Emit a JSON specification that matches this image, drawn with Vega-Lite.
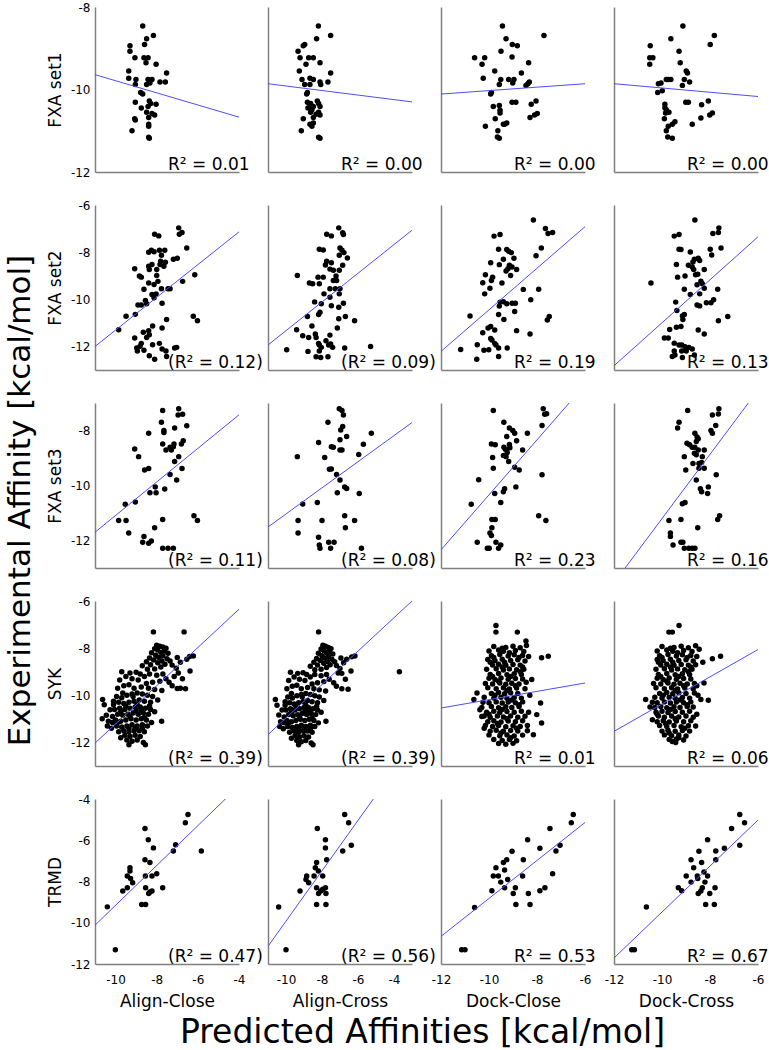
{
"$schema": "https://vega.github.io/schema/vega-lite/v6.json",
"background": "white",
"padding": {"left": 5, "top": 1, "right": 5, "bottom": 2},
"config": {
 "view": {"stroke": null},
 "font": "DejaVu Sans",
 "axis": {"domainColor": "#808080", "domainWidth": 1.5, "ticks": false, "grid": false, "labelFont": "DejaVu Sans", "labelFontSize": 12, "labelColor": "#000000", "labelPadding": 5, "labelFlush": false, "labelExpr": "replace(datum.label, '−', '-')", "titleFont": "DejaVu Sans", "titleFontSize": 17, "titleFontWeight": "normal", "titleColor": "#000000", "minExtent": 0},
 "axisY": {"titlePadding": 6},
 "axisX": {"labelPadding": 10, "titlePadding": 8},
 "circle": {"size": 30, "opacity": 1, "color": "#000000"},
 "line": {"color": "#4d4dff", "strokeWidth": 1},
 "text": {"font": "DejaVu Sans", "fontSize": 17, "align": "left", "baseline": "alphabetic", "color": "#000000"},
 "title": {"font": "DejaVu Sans", "fontSize": 33, "fontWeight": "normal", "color": "#000000"}
},
"datasets": {
 "fxa1_ac": [{"pred":-8.68,"exp":-8.46},{"pred":-8.16,"exp":-8.69},{"pred":-8.49,"exp":-8.77},{"pred":-9.30,"exp":-8.94},{"pred":-8.59,"exp":-8.91},{"pred":-9.30,"exp":-9.07},{"pred":-9.06,"exp":-9.23},{"pred":-8.62,"exp":-9.23},{"pred":-8.42,"exp":-9.23},{"pred":-8.52,"exp":-9.35},{"pred":-8.03,"exp":-9.39},{"pred":-9.36,"exp":-9.55},{"pred":-7.52,"exp":-9.60},{"pred":-9.36,"exp":-9.73},{"pred":-9.01,"exp":-9.76},{"pred":-8.42,"exp":-9.76},{"pred":-8.23,"exp":-9.76},{"pred":-7.84,"exp":-9.82},{"pred":-7.58,"exp":-9.82},{"pred":-9.04,"exp":-9.88},{"pred":-8.49,"exp":-9.88},{"pred":-8.33,"exp":-9.84},{"pred":-8.78,"exp":-10.07},{"pred":-8.68,"exp":-10.11},{"pred":-9.04,"exp":-10.31},{"pred":-8.36,"exp":-10.28},{"pred":-8.29,"exp":-10.34},{"pred":-8.42,"exp":-10.41},{"pred":-8.03,"exp":-10.36},{"pred":-8.75,"exp":-10.45},{"pred":-8.49,"exp":-10.55},{"pred":-8.23,"exp":-10.58},{"pred":-8.10,"exp":-10.62},{"pred":-8.39,"exp":-10.68},{"pred":-9.07,"exp":-10.71},{"pred":-9.04,"exp":-10.74},{"pred":-8.39,"exp":-10.84},{"pred":-8.39,"exp":-10.89},{"pred":-9.20,"exp":-11.0},{"pred":-8.39,"exp":-11.16},{"pred":-8.36,"exp":-11.18}],
 "fxa1_ax": [{"pred":-8.20,"exp":-8.46},{"pred":-8.30,"exp":-8.77},{"pred":-7.52,"exp":-8.69},{"pred":-8.96,"exp":-8.91},{"pred":-9.04,"exp":-8.94},{"pred":-9.33,"exp":-9.07},{"pred":-9.22,"exp":-9.23},{"pred":-8.74,"exp":-9.23},{"pred":-8.48,"exp":-9.23},{"pred":-8.89,"exp":-9.39},{"pred":-8.11,"exp":-9.35},{"pred":-9.26,"exp":-9.55},{"pred":-7.52,"exp":-9.60},{"pred":-9.11,"exp":-9.76},{"pred":-8.67,"exp":-9.73},{"pred":-8.48,"exp":-9.76},{"pred":-8.11,"exp":-9.82},{"pred":-7.67,"exp":-9.82},{"pred":-8.96,"exp":-9.88},{"pred":-8.67,"exp":-9.88},{"pred":-8.07,"exp":-9.88},{"pred":-8.81,"exp":-10.07},{"pred":-8.85,"exp":-10.11},{"pred":-8.26,"exp":-10.28},{"pred":-8.81,"exp":-10.31},{"pred":-8.63,"exp":-10.34},{"pred":-8.19,"exp":-10.34},{"pred":-8.67,"exp":-10.41},{"pred":-8.48,"exp":-10.41},{"pred":-8.11,"exp":-10.41},{"pred":-8.78,"exp":-10.45},{"pred":-8.56,"exp":-10.49},{"pred":-8.63,"exp":-10.55},{"pred":-8.19,"exp":-10.55},{"pred":-8.11,"exp":-10.62},{"pred":-8.33,"exp":-10.60},{"pred":-9.04,"exp":-10.71},{"pred":-8.48,"exp":-10.68},{"pred":-8.67,"exp":-10.84},{"pred":-8.48,"exp":-10.81},{"pred":-8.56,"exp":-10.89},{"pred":-9.15,"exp":-11.0},{"pred":-8.19,"exp":-11.16},{"pred":-8.11,"exp":-11.18}],
 "fxa1_dc": [{"pred":-9.44,"exp":-8.46},{"pred":-9.29,"exp":-8.77},{"pred":-9.03,"exp":-8.91},{"pred":-8.82,"exp":-8.94},{"pred":-9.50,"exp":-9.07},{"pred":-7.71,"exp":-8.69},{"pred":-10.60,"exp":-9.23},{"pred":-10.18,"exp":-9.23},{"pred":-10.29,"exp":-9.39},{"pred":-9.04,"exp":-9.21},{"pred":-8.35,"exp":-9.35},{"pred":-9.76,"exp":-9.55},{"pred":-8.65,"exp":-9.60},{"pred":-10.24,"exp":-9.73},{"pred":-9.51,"exp":-9.76},{"pred":-9.18,"exp":-9.76},{"pred":-8.96,"exp":-9.76},{"pred":-9.57,"exp":-9.88},{"pred":-9.01,"exp":-9.84},{"pred":-8.46,"exp":-9.90},{"pred":-8.32,"exp":-9.82},{"pred":-8.38,"exp":-9.86},{"pred":-9.90,"exp":-10.07},{"pred":-9.93,"exp":-10.11},{"pred":-9.04,"exp":-10.31},{"pred":-8.88,"exp":-10.31},{"pred":-8.04,"exp":-10.28},{"pred":-9.82,"exp":-10.41},{"pred":-9.57,"exp":-10.39},{"pred":-8.24,"exp":-10.36},{"pred":-9.54,"exp":-10.50},{"pred":-9.54,"exp":-10.57},{"pred":-7.99,"exp":-10.58},{"pred":-8.10,"exp":-10.62},{"pred":-9.74,"exp":-10.71},{"pred":-8.29,"exp":-10.68},{"pred":-9.26,"exp":-10.81},{"pred":-9.40,"exp":-10.84},{"pred":-9.35,"exp":-10.84},{"pred":-10.15,"exp":-10.89},{"pred":-9.63,"exp":-11.0},{"pred":-9.65,"exp":-11.15},{"pred":-9.57,"exp":-11.18}],
 "fxa1_dx": [{"pred":-9.13,"exp":-8.46},{"pred":-7.82,"exp":-8.69},{"pred":-9.63,"exp":-8.77},{"pred":-10.49,"exp":-8.94},{"pred":-7.99,"exp":-8.91},{"pred":-9.29,"exp":-9.07},{"pred":-10.51,"exp":-9.23},{"pred":-10.38,"exp":-9.23},{"pred":-9.24,"exp":-9.35},{"pred":-10.51,"exp":-9.39},{"pred":-8.99,"exp":-9.55},{"pred":-8.94,"exp":-9.60},{"pred":-9.74,"exp":-9.76},{"pred":-9.82,"exp":-9.76},{"pred":-9.63,"exp":-9.76},{"pred":-9.07,"exp":-9.76},{"pred":-8.85,"exp":-9.82},{"pred":-10.15,"exp":-9.86},{"pred":-10.04,"exp":-9.84},{"pred":-9.15,"exp":-9.90},{"pred":-10.18,"exp":-10.07},{"pred":-9.99,"exp":-10.03},{"pred":-9.01,"exp":-10.31},{"pred":-8.90,"exp":-10.31},{"pred":-8.07,"exp":-10.28},{"pred":-9.88,"exp":-10.36},{"pred":-8.35,"exp":-10.37},{"pred":-9.88,"exp":-10.44},{"pred":-9.82,"exp":-10.49},{"pred":-9.85,"exp":-10.57},{"pred":-9.71,"exp":-10.55},{"pred":-7.90,"exp":-10.57},{"pred":-8.01,"exp":-10.62},{"pred":-9.90,"exp":-10.71},{"pred":-9.46,"exp":-10.78},{"pred":-8.38,"exp":-10.69},{"pred":-9.57,"exp":-10.84},{"pred":-9.74,"exp":-10.89},{"pred":-8.74,"exp":-10.84},{"pred":-9.82,"exp":-11.0},{"pred":-9.76,"exp":-11.15},{"pred":-9.57,"exp":-11.18}],
 "fxa2_ac": [{"pred":-6.93,"exp":-6.97},{"pred":-6.77,"exp":-7.17},{"pred":-6.90,"exp":-7.24},{"pred":-8.10,"exp":-7.24},{"pred":-7.90,"exp":-7.31},{"pred":-6.54,"exp":-7.82},{"pred":-8.26,"exp":-7.92},{"pred":-8.13,"exp":-7.98},{"pred":-7.87,"exp":-7.92},{"pred":-7.61,"exp":-7.92},{"pred":-8.39,"exp":-8.00},{"pred":-7.77,"exp":-8.13},{"pred":-9.07,"exp":-8.70},{"pred":-8.84,"exp":-9.01},{"pred":-8.75,"exp":-9.06},{"pred":-8.23,"exp":-8.52},{"pred":-8.39,"exp":-8.60},{"pred":-8.36,"exp":-8.74},{"pred":-8.00,"exp":-8.74},{"pred":-7.84,"exp":-8.52},{"pred":-7.65,"exp":-8.60},{"pred":-7.81,"exp":-8.39},{"pred":-7.58,"exp":-8.43},{"pred":-7.19,"exp":-8.30},{"pred":-7.00,"exp":-8.26},{"pred":-8.00,"exp":-8.99},{"pred":-8.39,"exp":-9.31},{"pred":-8.62,"exp":-9.57},{"pred":-7.94,"exp":-9.24},{"pred":-8.13,"exp":-9.37},{"pred":-7.77,"exp":-9.55},{"pred":-7.45,"exp":-9.55},{"pred":-7.35,"exp":-9.55},{"pred":-6.74,"exp":-9.24},{"pred":-6.15,"exp":-8.96},{"pred":-8.23,"exp":-9.80},{"pred":-8.13,"exp":-9.94},{"pred":-8.03,"exp":-9.77},{"pred":-8.75,"exp":-10.24},{"pred":-8.91,"exp":-10.24},{"pred":-8.55,"exp":-10.05},{"pred":-8.49,"exp":-10.19},{"pred":-7.74,"exp":-10.17},{"pred":-9.49,"exp":-10.72},{"pred":-9.04,"exp":-10.64},{"pred":-9.85,"exp":-11.29},{"pred":-6.22,"exp":-10.72},{"pred":-6.02,"exp":-10.91},{"pred":-7.52,"exp":-10.86},{"pred":-8.20,"exp":-11.13},{"pred":-7.74,"exp":-11.22},{"pred":-9.07,"exp":-11.64},{"pred":-8.65,"exp":-11.40},{"pred":-8.39,"exp":-11.33},{"pred":-8.36,"exp":-11.50},{"pred":-8.49,"exp":-11.62},{"pred":-8.75,"exp":-11.87},{"pred":-8.81,"exp":-11.99},{"pred":-8.97,"exp":-12.07},{"pred":-8.94,"exp":-12.19},{"pred":-8.62,"exp":-12.16},{"pred":-8.20,"exp":-11.93},{"pred":-7.87,"exp":-11.87},{"pred":-7.55,"exp":-12.19},{"pred":-7.03,"exp":-12.04},{"pred":-7.13,"exp":-12.07},{"pred":-7.74,"exp":-12.11},{"pred":-8.36,"exp":-12.40},{"pred":-8.10,"exp":-12.54},{"pred":-7.52,"exp":-12.43}],
 "fxa2_ax": [{"pred":-7.07,"exp":-6.97},{"pred":-6.85,"exp":-7.18},{"pred":-6.81,"exp":-7.25},{"pred":-7.74,"exp":-7.24},{"pred":-7.48,"exp":-7.31},{"pred":-8.15,"exp":-7.88},{"pred":-7.93,"exp":-7.91},{"pred":-7.0,"exp":-7.82},{"pred":-6.89,"exp":-7.92},{"pred":-6.59,"exp":-8.25},{"pred":-6.78,"exp":-8.02},{"pred":-7.04,"exp":-8.13},{"pred":-7.74,"exp":-8.39},{"pred":-7.48,"exp":-8.45},{"pred":-7.81,"exp":-8.55},{"pred":-7.56,"exp":-8.72},{"pred":-7.37,"exp":-8.77},{"pred":-7.04,"exp":-8.77},{"pred":-6.85,"exp":-8.56},{"pred":-7.22,"exp":-9.01},{"pred":-7.19,"exp":-9.20},{"pred":-8.22,"exp":-9.06},{"pred":-7.93,"exp":-9.06},{"pred":-8.52,"exp":-9.34},{"pred":-8.15,"exp":-9.34},{"pred":-7.37,"exp":-9.20},{"pred":-7.26,"exp":-9.55},{"pred":-7.56,"exp":-9.55},{"pred":-7.0,"exp":-9.55},{"pred":-7.04,"exp":-9.77},{"pred":-7.89,"exp":-9.77},{"pred":-7.48,"exp":-10.27},{"pred":-6.81,"exp":-10.17},{"pred":-7.56,"exp":-9.91},{"pred":-8.04,"exp":-10.19},{"pred":-8.41,"exp":-10.11},{"pred":-7.07,"exp":-10.34},{"pred":-8.11,"exp":-10.55},{"pred":-8.19,"exp":-10.65},{"pred":-8.81,"exp":-10.73},{"pred":-6.70,"exp":-10.73},{"pred":-6.19,"exp":-10.91},{"pred":-7.07,"exp":-10.83},{"pred":-7.15,"exp":-11.22},{"pred":-8.56,"exp":-11.13},{"pred":-8.37,"exp":-11.47},{"pred":-9.07,"exp":-11.55},{"pred":-8.74,"exp":-11.62},{"pred":-8.33,"exp":-11.62},{"pred":-8.19,"exp":-11.87},{"pred":-8.15,"exp":-11.94},{"pred":-8.04,"exp":-12.04},{"pred":-7.78,"exp":-11.76},{"pred":-7.56,"exp":-11.52},{"pred":-7.63,"exp":-11.94},{"pred":-7.52,"exp":-11.90},{"pred":-7.41,"exp":-12.04},{"pred":-8.15,"exp":-12.19},{"pred":-8.33,"exp":-12.44},{"pred":-8.07,"exp":-12.47},{"pred":-7.67,"exp":-12.44},{"pred":-6.74,"exp":-12.07},{"pred":-5.30,"exp":-12.0},{"pred":-9.96,"exp":-12.14},{"pred":-8.78,"exp":-12.21},{"pred":-9.41,"exp":-11.29},{"pred":-9.37,"exp":-8.99},{"pred":-8.70,"exp":-9.31}],
 "fxa2_dc": [{"pred":-8.15,"exp":-6.64},{"pred":-7.65,"exp":-7.0},{"pred":-7.54,"exp":-7.21},{"pred":-7.35,"exp":-7.17},{"pred":-9.79,"exp":-7.32},{"pred":-9.54,"exp":-7.25},{"pred":-9.60,"exp":-7.88},{"pred":-9.26,"exp":-7.89},{"pred":-9.18,"exp":-7.96},{"pred":-9.07,"exp":-8.02},{"pred":-7.82,"exp":-7.82},{"pred":-8.04,"exp":-8.15},{"pred":-9.40,"exp":-8.30},{"pred":-8.96,"exp":-8.26},{"pred":-9.93,"exp":-8.45},{"pred":-9.57,"exp":-8.53},{"pred":-9.15,"exp":-8.56},{"pred":-9.21,"exp":-8.70},{"pred":-9.29,"exp":-8.80},{"pred":-9.04,"exp":-8.63},{"pred":-8.85,"exp":-8.74},{"pred":-9.10,"exp":-8.99},{"pred":-10.15,"exp":-8.96},{"pred":-9.85,"exp":-9.06},{"pred":-9.90,"exp":-9.20},{"pred":-10.26,"exp":-9.30},{"pred":-9.96,"exp":-9.53},{"pred":-10.18,"exp":-9.77},{"pred":-9.46,"exp":-9.31},{"pred":-8.57,"exp":-9.58},{"pred":-7.93,"exp":-9.57},{"pred":-8.26,"exp":-10.02},{"pred":-9.54,"exp":-10.12},{"pred":-9.40,"exp":-10.10},{"pred":-9.57,"exp":-10.29},{"pred":-9.26,"exp":-10.19},{"pred":-9.04,"exp":-10.17},{"pred":-8.90,"exp":-10.17},{"pred":-8.93,"exp":-10.52},{"pred":-9.38,"exp":-10.86},{"pred":-9.60,"exp":-10.65},{"pred":-10.79,"exp":-10.71},{"pred":-7.57,"exp":-10.88},{"pred":-7.49,"exp":-10.73},{"pred":-9.93,"exp":-11.15},{"pred":-10.04,"exp":-11.22},{"pred":-9.76,"exp":-11.30},{"pred":-10.26,"exp":-11.42},{"pred":-8.85,"exp":-11.33},{"pred":-8.29,"exp":-11.47},{"pred":-9.93,"exp":-11.66},{"pred":-9.88,"exp":-11.73},{"pred":-9.76,"exp":-11.87},{"pred":-9.71,"exp":-11.94},{"pred":-9.60,"exp":-12.07},{"pred":-10.01,"exp":-12.14},{"pred":-10.21,"exp":-12.16},{"pred":-9.24,"exp":-12.07},{"pred":-10.49,"exp":-11.93},{"pred":-11.18,"exp":-12.13},{"pred":-10.51,"exp":-12.54},{"pred":-9.60,"exp":-12.43}],
 "fxa2_dx": [{"pred":-8.63,"exp":-6.64},{"pred":-7.88,"exp":-7.21},{"pred":-7.65,"exp":-7.17},{"pred":-7.63,"exp":-6.97},{"pred":-9.49,"exp":-7.32},{"pred":-9.29,"exp":-7.25},{"pred":-9.29,"exp":-7.88},{"pred":-9.21,"exp":-7.89},{"pred":-8.82,"exp":-7.99},{"pred":-7.99,"exp":-7.88},{"pred":-7.93,"exp":-8.12},{"pred":-7.54,"exp":-7.82},{"pred":-8.65,"exp":-8.30},{"pred":-8.49,"exp":-8.26},{"pred":-8.71,"exp":-8.42},{"pred":-8.43,"exp":-8.35},{"pred":-9.40,"exp":-8.52},{"pred":-8.90,"exp":-8.56},{"pred":-8.74,"exp":-8.63},{"pred":-8.68,"exp":-8.74},{"pred":-8.60,"exp":-8.96},{"pred":-8.51,"exp":-8.94},{"pred":-8.24,"exp":-8.74},{"pred":-9.04,"exp":-9.01},{"pred":-9.35,"exp":-9.06},{"pred":-10.46,"exp":-9.31},{"pred":-8.38,"exp":-9.23},{"pred":-8.32,"exp":-9.34},{"pred":-8.54,"exp":-9.38},{"pred":-9.07,"exp":-9.57},{"pred":-8.24,"exp":-9.53},{"pred":-7.68,"exp":-9.57},{"pred":-8.43,"exp":-9.77},{"pred":-8.82,"exp":-9.80},{"pred":-9.43,"exp":-10.12},{"pred":-8.54,"exp":-10.24},{"pred":-8.43,"exp":-10.28},{"pred":-8.15,"exp":-10.15},{"pred":-7.96,"exp":-10.15},{"pred":-7.85,"exp":-10.02},{"pred":-9.38,"exp":-10.48},{"pred":-9.15,"exp":-10.71},{"pred":-9.07,"exp":-10.65},{"pred":-9.13,"exp":-10.86},{"pred":-9.21,"exp":-11.15},{"pred":-9.40,"exp":-11.19},{"pred":-9.68,"exp":-11.28},{"pred":-8.49,"exp":-11.30},{"pred":-8.24,"exp":-11.47},{"pred":-7.26,"exp":-10.73},{"pred":-7.65,"exp":-10.91},{"pred":-9.90,"exp":-11.64},{"pred":-9.74,"exp":-11.64},{"pred":-9.49,"exp":-11.86},{"pred":-9.29,"exp":-11.94},{"pred":-9.18,"exp":-11.94},{"pred":-9.04,"exp":-12.01},{"pred":-8.88,"exp":-12.04},{"pred":-8.74,"exp":-12.11},{"pred":-9.18,"exp":-12.19},{"pred":-8.99,"exp":-12.19},{"pred":-9.49,"exp":-12.19},{"pred":-9.46,"exp":-12.36},{"pred":-9.57,"exp":-12.43},{"pred":-8.65,"exp":-12.36},{"pred":-9.15,"exp":-12.47}],
 "fxa3_ac": [{"pred":-6.93,"exp":-7.21},{"pred":-7.71,"exp":-7.27},{"pred":-6.74,"exp":-7.41},{"pred":-6.96,"exp":-7.44},{"pred":-7.77,"exp":-7.70},{"pred":-7.65,"exp":-8.0},{"pred":-7.65,"exp":-8.07},{"pred":-7.13,"exp":-7.91},{"pred":-8.39,"exp":-8.10},{"pred":-6.54,"exp":-7.83},{"pred":-7.71,"exp":-8.49},{"pred":-7.55,"exp":-8.71},{"pred":-7.29,"exp":-8.71},{"pred":-7.35,"exp":-8.61},{"pred":-7.16,"exp":-8.49},{"pred":-7.19,"exp":-8.59},{"pred":-6.71,"exp":-8.37},{"pred":-6.80,"exp":-8.49},{"pred":-9.07,"exp":-8.67},{"pred":-8.88,"exp":-8.95},{"pred":-8.59,"exp":-9.44},{"pred":-8.39,"exp":-9.38},{"pred":-6.93,"exp":-8.95},{"pred":-7.13,"exp":-9.13},{"pred":-6.77,"exp":-9.38},{"pred":-7.35,"exp":-9.60},{"pred":-7.03,"exp":-9.80},{"pred":-8.33,"exp":-10.26},{"pred":-8.03,"exp":-10.26},{"pred":-7.61,"exp":-10.13},{"pred":-8.07,"exp":-10.05},{"pred":-9.49,"exp":-11.27},{"pred":-9.53,"exp":-10.68},{"pred":-9.04,"exp":-10.60},{"pred":-8.10,"exp":-11.54},{"pred":-7.71,"exp":-11.24},{"pred":-9.36,"exp":-11.73},{"pred":-8.62,"exp":-11.85},{"pred":-8.68,"exp":-12.06},{"pred":-8.39,"exp":-12.10},{"pred":-8.26,"exp":-12.02},{"pred":-6.19,"exp":-11.10},{"pred":-6.02,"exp":-11.27},{"pred":-7.71,"exp":-12.28},{"pred":-7.45,"exp":-12.28},{"pred":-7.19,"exp":-12.28},{"pred":-9.85,"exp":-11.27}],
 "fxa3_ax": [{"pred":-7.04,"exp":-7.21},{"pred":-6.89,"exp":-7.27},{"pred":-6.81,"exp":-7.44},{"pred":-6.85,"exp":-7.85},{"pred":-6.96,"exp":-7.98},{"pred":-6.63,"exp":-8.22},{"pred":-7.0,"exp":-8.34},{"pred":-5.26,"exp":-8.10},{"pred":-7.67,"exp":-7.70},{"pred":-5.70,"exp":-8.50},{"pred":-5.96,"exp":-8.87},{"pred":-7.48,"exp":-8.59},{"pred":-7.0,"exp":-8.71},{"pred":-6.89,"exp":-8.71},{"pred":-8.19,"exp":-8.44},{"pred":-7.85,"exp":-8.98},{"pred":-7.37,"exp":-8.61},{"pred":-7.59,"exp":-9.41},{"pred":-7.48,"exp":-9.40},{"pred":-7.19,"exp":-9.60},{"pred":-7.0,"exp":-9.80},{"pred":-6.63,"exp":-10.11},{"pred":-6.74,"exp":-10.05},{"pred":-7.15,"exp":-10.26},{"pred":-5.93,"exp":-10.29},{"pred":-9.37,"exp":-8.95},{"pred":-9.07,"exp":-10.67},{"pred":-8.26,"exp":-10.62},{"pred":-9.33,"exp":-11.27},{"pred":-9.33,"exp":-11.73},{"pred":-8.0,"exp":-11.27},{"pred":-6.74,"exp":-11.10},{"pred":-6.70,"exp":-11.54},{"pred":-6.19,"exp":-11.27},{"pred":-8.19,"exp":-11.88},{"pred":-8.15,"exp":-12.16},{"pred":-7.63,"exp":-12.06},{"pred":-7.33,"exp":-12.06},{"pred":-7.52,"exp":-12.28},{"pred":-8.11,"exp":-12.28},{"pred":-5.81,"exp":-12.28}],
 "fxa3_dc": [{"pred":-9.82,"exp":-7.27},{"pred":-7.74,"exp":-7.21},{"pred":-7.60,"exp":-7.39},{"pred":-7.68,"exp":-7.41},{"pred":-9.38,"exp":-7.70},{"pred":-9.15,"exp":-7.91},{"pred":-9.01,"exp":-8.0},{"pred":-8.93,"exp":-8.10},{"pred":-8.40,"exp":-8.10},{"pred":-9.90,"exp":-8.49},{"pred":-9.74,"exp":-8.52},{"pred":-9.26,"exp":-8.22},{"pred":-8.85,"exp":-8.37},{"pred":-9.38,"exp":-8.61},{"pred":-9.15,"exp":-8.51},{"pred":-9.32,"exp":-8.68},{"pred":-9.13,"exp":-8.63},{"pred":-9.24,"exp":-8.80},{"pred":-8.60,"exp":-8.71},{"pred":-9.40,"exp":-8.91},{"pred":-9.29,"exp":-8.95},{"pred":-9.85,"exp":-8.98},{"pred":-9.18,"exp":-9.13},{"pred":-9.82,"exp":-9.37},{"pred":-8.93,"exp":-9.34},{"pred":-8.74,"exp":-9.44},{"pred":-7.79,"exp":-7.82},{"pred":-7.79,"exp":-9.61},{"pred":-10.43,"exp":-9.79},{"pred":-9.35,"exp":-10.12},{"pred":-9.40,"exp":-10.23},{"pred":-8.88,"exp":-10.05},{"pred":-9.76,"exp":-10.29},{"pred":-9.51,"exp":-10.62},{"pred":-10.74,"exp":-10.68},{"pred":-9.88,"exp":-11.24},{"pred":-9.74,"exp":-11.24},{"pred":-9.88,"exp":-11.54},{"pred":-9.96,"exp":-11.73},{"pred":-9.90,"exp":-11.82},{"pred":-10.49,"exp":-12.06},{"pred":-9.71,"exp":-12.06},{"pred":-9.51,"exp":-12.16},{"pred":-9.60,"exp":-12.28},{"pred":-10.07,"exp":-12.28},{"pred":-9.99,"exp":-12.28},{"pred":-7.93,"exp":-11.10},{"pred":-7.63,"exp":-11.27}],
 "fxa3_dx": [{"pred":-8.93,"exp":-7.27},{"pred":-9.29,"exp":-7.70},{"pred":-9.35,"exp":-7.91},{"pred":-7.63,"exp":-7.21},{"pred":-7.65,"exp":-7.40},{"pred":-7.90,"exp":-7.44},{"pred":-7.76,"exp":-7.82},{"pred":-7.96,"exp":-8.0},{"pred":-7.90,"exp":-8.10},{"pred":-8.63,"exp":-8.10},{"pred":-8.54,"exp":-8.24},{"pred":-8.49,"exp":-8.30},{"pred":-8.57,"exp":-8.40},{"pred":-8.96,"exp":-8.46},{"pred":-8.85,"exp":-8.52},{"pred":-8.74,"exp":-8.61},{"pred":-8.63,"exp":-8.61},{"pred":-8.49,"exp":-8.71},{"pred":-8.65,"exp":-8.83},{"pred":-8.24,"exp":-8.71},{"pred":-8.32,"exp":-8.95},{"pred":-9.07,"exp":-8.95},{"pred":-8.57,"exp":-8.88},{"pred":-8.71,"exp":-9.20},{"pred":-8.35,"exp":-9.16},{"pred":-8.46,"exp":-9.37},{"pred":-8.24,"exp":-9.37},{"pred":-9.01,"exp":-9.44},{"pred":-7.74,"exp":-9.61},{"pred":-8.57,"exp":-9.80},{"pred":-8.07,"exp":-10.05},{"pred":-8.40,"exp":-10.12},{"pred":-8.35,"exp":-10.23},{"pred":-8.10,"exp":-10.29},{"pred":-9.15,"exp":-10.66},{"pred":-9.04,"exp":-10.62},{"pred":-9.71,"exp":-11.27},{"pred":-9.21,"exp":-11.24},{"pred":-7.68,"exp":-11.24},{"pred":-7.60,"exp":-11.10},{"pred":-8.51,"exp":-11.54},{"pred":-9.65,"exp":-11.73},{"pred":-9.65,"exp":-11.85},{"pred":-9.54,"exp":-12.16},{"pred":-9.21,"exp":-12.06},{"pred":-9.13,"exp":-12.06},{"pred":-9.07,"exp":-12.28},{"pred":-8.88,"exp":-12.28},{"pred":-8.74,"exp":-12.28},{"pred":-8.63,"exp":-12.28},{"pred":-8.46,"exp":-9.20}],
 "syk_ac": [{"pred":-8.16,"exp":-7.31},{"pred":-6.67,"exp":-7.31},{"pred":-10.63,"exp":-10.18},{"pred":-6.38,"exp":-8.97},{"pred":-6.22,"exp":-8.33},{"pred":-6.54,"exp":-8.47},{"pred":-7.76,"exp":-11.10},{"pred":-7.0,"exp":-9.71},{"pred":-8.0,"exp":-7.88},{"pred":-7.85,"exp":-7.92},{"pred":-7.7,"exp":-7.95},{"pred":-7.55,"exp":-8.0},{"pred":-8.1,"exp":-8.02},{"pred":-7.95,"exp":-8.08},{"pred":-7.62,"exp":-8.12},{"pred":-7.8,"exp":-8.18},{"pred":-8.25,"exp":-8.2},{"pred":-7.45,"exp":-8.22},{"pred":-8.05,"exp":-8.3},{"pred":-7.7,"exp":-8.32},{"pred":-7.9,"exp":-8.4},{"pred":-8.35,"exp":-8.42},{"pred":-7.5,"exp":-8.45},{"pred":-8.15,"exp":-8.5},{"pred":-7.75,"exp":-8.55},{"pred":-7.35,"exp":-8.55},{"pred":-8.5,"exp":-8.58},{"pred":-7.95,"exp":-8.62},{"pred":-7.6,"exp":-8.68},{"pred":-8.3,"exp":-8.7},{"pred":-7.25,"exp":-8.72},{"pred":-8.7,"exp":-8.75},{"pred":-7.8,"exp":-8.8},{"pred":-7.05,"exp":-8.85},{"pred":-8.1,"exp":-8.88},{"pred":-8.45,"exp":-8.9},{"pred":-6.85,"exp":-8.6},{"pred":-7.0,"exp":-8.4},{"pred":-6.4,"exp":-8.35},{"pred":-6.95,"exp":-9.05},{"pred":-6.75,"exp":-9.3},{"pred":-7.15,"exp":-9.2},{"pred":-6.6,"exp":-9.72},{"pred":-6.85,"exp":-9.7},{"pred":-7.25,"exp":-9.6},{"pred":-7.4,"exp":-9.45},{"pred":-9.7,"exp":-9.0},{"pred":-9.3,"exp":-9.05},{"pred":-9.0,"exp":-9.02},{"pred":-8.8,"exp":-9.1},{"pred":-9.5,"exp":-9.2},{"pred":-9.8,"exp":-9.35},{"pred":-9.2,"exp":-9.3},{"pred":-8.9,"exp":-9.35},{"pred":-8.6,"exp":-9.2},{"pred":-8.35,"exp":-9.1},{"pred":-8.0,"exp":-9.15},{"pred":-7.7,"exp":-9.1},{"pred":-7.55,"exp":-9.3},{"pred":-7.85,"exp":-9.4},{"pred":-8.2,"exp":-9.45},{"pred":-8.5,"exp":-9.5},{"pred":-9.35,"exp":-9.55},{"pred":-9.6,"exp":-9.6},{"pred":-9.9,"exp":-9.7},{"pred":-9.1,"exp":-9.7},{"pred":-8.75,"exp":-9.65},{"pred":-8.4,"exp":-9.7},{"pred":-8.1,"exp":-9.75},{"pred":-7.75,"exp":-9.8},{"pred":-9.65,"exp":-9.9},{"pred":-10.27,"exp":-10.61},{"pred":-10.45,"exp":-10.85},{"pred":-10.1,"exp":-10.4},{"pred":-9.95,"exp":-10.05},{"pred":-9.7,"exp":-10.1},{"pred":-9.45,"exp":-10.0},{"pred":-9.2,"exp":-9.95},{"pred":-8.95,"exp":-9.9},{"pred":-8.7,"exp":-9.95},{"pred":-8.45,"exp":-10.0},{"pred":-8.2,"exp":-10.05},{"pred":-7.95,"exp":-10.2},{"pred":-8.3,"exp":-10.3},{"pred":-8.6,"exp":-10.25},{"pred":-8.85,"exp":-10.2},{"pred":-9.1,"exp":-10.25},{"pred":-9.35,"exp":-10.3},{"pred":-9.6,"exp":-10.35},{"pred":-9.85,"exp":-10.3},{"pred":-10.05,"exp":-10.6},{"pred":-9.8,"exp":-10.55},{"pred":-9.55,"exp":-10.6},{"pred":-9.3,"exp":-10.55},{"pred":-9.05,"exp":-10.5},{"pred":-8.8,"exp":-10.5},{"pred":-8.55,"exp":-10.55},{"pred":-8.3,"exp":-10.6},{"pred":-8.1,"exp":-10.7},{"pred":-8.4,"exp":-10.8},{"pred":-8.65,"exp":-10.75},{"pred":-8.9,"exp":-10.8},{"pred":-9.15,"exp":-10.75},{"pred":-9.4,"exp":-10.8},{"pred":-9.65,"exp":-10.85},{"pred":-9.9,"exp":-10.8},{"pred":-10.15,"exp":-10.9},{"pred":-10.35,"exp":-11.1},{"pred":-10.0,"exp":-11.05},{"pred":-9.75,"exp":-11.1},{"pred":-9.5,"exp":-11.05},{"pred":-9.25,"exp":-11.0},{"pred":-9.0,"exp":-11.05},{"pred":-8.75,"exp":-11.0},{"pred":-8.5,"exp":-11.05},{"pred":-8.25,"exp":-11.15},{"pred":-8.45,"exp":-11.3},{"pred":-8.7,"exp":-11.25},{"pred":-8.95,"exp":-11.3},{"pred":-9.2,"exp":-11.25},{"pred":-9.45,"exp":-11.3},{"pred":-9.7,"exp":-11.35},{"pred":-9.95,"exp":-11.3},{"pred":-10.2,"exp":-11.4},{"pred":-9.85,"exp":-11.55},{"pred":-9.6,"exp":-11.5},{"pred":-9.35,"exp":-11.55},{"pred":-9.1,"exp":-11.5},{"pred":-8.85,"exp":-11.5},{"pred":-8.6,"exp":-11.55},{"pred":-8.8,"exp":-11.75},{"pred":-9.05,"exp":-11.7},{"pred":-9.3,"exp":-11.75},{"pred":-9.55,"exp":-11.7},{"pred":-9.75,"exp":-11.8},{"pred":-9.45,"exp":-11.9},{"pred":-9.2,"exp":-11.95},{"pred":-8.95,"exp":-11.9},{"pred":-9.35,"exp":-12.1},{"pred":-8.65,"exp":-12.0},{"pred":-8.55,"exp":-12.1},{"pred":-9.15,"exp":-10.05},{"pred":-8.95,"exp":-10.4},{"pred":-9.5,"exp":-10.45},{"pred":-8.35,"exp":-10.45},{"pred":-9.0,"exp":-10.65},{"pred":-8.75,"exp":-10.65},{"pred":-9.3,"exp":-10.9},{"pred":-8.6,"exp":-10.95},{"pred":-9.75,"exp":-10.7},{"pred":-10.1,"exp":-10.25},{"pred":-9.35,"exp":-11.4},{"pred":-9.05,"exp":-11.4},{"pred":-8.7,"exp":-11.4},{"pred":-9.9,"exp":-11.15},{"pred":-10.15,"exp":-11.15},{"pred":-10.55,"exp":-10.4},{"pred":-10.4,"exp":-11.3},{"pred":-10.65,"exp":-11.0}],
 "syk_ax": [{"pred":-8.19,"exp":-7.31},{"pred":-10.59,"exp":-10.18},{"pred":-6.39,"exp":-8.97},{"pred":-6.17,"exp":-8.33},{"pred":-6.63,"exp":-8.47},{"pred":-7.78,"exp":-11.10},{"pred":-3.70,"exp":-9.0},{"pred":-6.9,"exp":-9.72},{"pred":-7.1,"exp":-9.05},{"pred":-7.95,"exp":-7.88},{"pred":-7.8,"exp":-7.92},{"pred":-7.65,"exp":-7.97},{"pred":-7.5,"exp":-8.02},{"pred":-8.05,"exp":-8.04},{"pred":-7.9,"exp":-8.1},{"pred":-7.58,"exp":-8.14},{"pred":-7.75,"exp":-8.2},{"pred":-8.2,"exp":-8.22},{"pred":-7.4,"exp":-8.25},{"pred":-8.0,"exp":-8.32},{"pred":-7.65,"exp":-8.35},{"pred":-7.85,"exp":-8.42},{"pred":-8.3,"exp":-8.44},{"pred":-7.45,"exp":-8.47},{"pred":-8.1,"exp":-8.52},{"pred":-7.7,"exp":-8.57},{"pred":-7.3,"exp":-8.58},{"pred":-8.45,"exp":-8.6},{"pred":-7.9,"exp":-8.64},{"pred":-7.55,"exp":-8.7},{"pred":-8.25,"exp":-8.72},{"pred":-7.2,"exp":-8.74},{"pred":-8.65,"exp":-8.77},{"pred":-7.75,"exp":-8.82},{"pred":-7.0,"exp":-8.86},{"pred":-8.05,"exp":-8.9},{"pred":-8.4,"exp":-8.92},{"pred":-6.8,"exp":-8.62},{"pred":-6.95,"exp":-8.42},{"pred":-6.35,"exp":-8.37},{"pred":-6.9,"exp":-9.07},{"pred":-6.7,"exp":-9.32},{"pred":-6.55,"exp":-9.74},{"pred":-7.2,"exp":-9.62},{"pred":-7.35,"exp":-9.47},{"pred":-9.75,"exp":-9.02},{"pred":-9.35,"exp":-9.07},{"pred":-9.05,"exp":-9.04},{"pred":-8.85,"exp":-9.12},{"pred":-9.55,"exp":-9.22},{"pred":-9.85,"exp":-9.37},{"pred":-9.25,"exp":-9.32},{"pred":-8.95,"exp":-9.37},{"pred":-8.65,"exp":-9.22},{"pred":-8.4,"exp":-9.12},{"pred":-8.05,"exp":-9.17},{"pred":-7.75,"exp":-9.12},{"pred":-7.6,"exp":-9.32},{"pred":-7.9,"exp":-9.42},{"pred":-8.25,"exp":-9.47},{"pred":-8.55,"exp":-9.52},{"pred":-9.4,"exp":-9.57},{"pred":-9.65,"exp":-9.62},{"pred":-9.95,"exp":-9.72},{"pred":-9.15,"exp":-9.72},{"pred":-8.8,"exp":-9.67},{"pred":-8.45,"exp":-9.72},{"pred":-8.15,"exp":-9.77},{"pred":-7.8,"exp":-9.82},{"pred":-9.7,"exp":-9.92},{"pred":-10.22,"exp":-10.62},{"pred":-10.4,"exp":-10.84},{"pred":-10.05,"exp":-10.42},{"pred":-9.9,"exp":-10.07},{"pred":-9.65,"exp":-10.12},{"pred":-9.4,"exp":-10.02},{"pred":-9.15,"exp":-9.97},{"pred":-8.9,"exp":-9.92},{"pred":-8.65,"exp":-9.97},{"pred":-8.4,"exp":-10.02},{"pred":-8.15,"exp":-10.07},{"pred":-7.9,"exp":-10.22},{"pred":-8.25,"exp":-10.32},{"pred":-8.55,"exp":-10.27},{"pred":-8.8,"exp":-10.22},{"pred":-9.05,"exp":-10.27},{"pred":-9.3,"exp":-10.32},{"pred":-9.55,"exp":-10.37},{"pred":-9.8,"exp":-10.32},{"pred":-10.0,"exp":-10.62},{"pred":-9.75,"exp":-10.57},{"pred":-9.5,"exp":-10.62},{"pred":-9.25,"exp":-10.57},{"pred":-9.0,"exp":-10.52},{"pred":-8.75,"exp":-10.52},{"pred":-8.5,"exp":-10.57},{"pred":-8.25,"exp":-10.62},{"pred":-8.05,"exp":-10.72},{"pred":-8.35,"exp":-10.82},{"pred":-8.6,"exp":-10.77},{"pred":-8.85,"exp":-10.82},{"pred":-9.1,"exp":-10.77},{"pred":-9.35,"exp":-10.82},{"pred":-9.6,"exp":-10.87},{"pred":-9.85,"exp":-10.82},{"pred":-10.1,"exp":-10.92},{"pred":-10.3,"exp":-11.12},{"pred":-9.95,"exp":-11.07},{"pred":-9.7,"exp":-11.12},{"pred":-9.45,"exp":-11.07},{"pred":-9.2,"exp":-11.02},{"pred":-8.95,"exp":-11.07},{"pred":-8.7,"exp":-11.02},{"pred":-8.45,"exp":-11.07},{"pred":-8.2,"exp":-11.17},{"pred":-8.4,"exp":-11.32},{"pred":-8.65,"exp":-11.27},{"pred":-8.9,"exp":-11.32},{"pred":-9.15,"exp":-11.27},{"pred":-9.4,"exp":-11.32},{"pred":-9.65,"exp":-11.37},{"pred":-9.9,"exp":-11.32},{"pred":-10.15,"exp":-11.42},{"pred":-9.8,"exp":-11.57},{"pred":-9.55,"exp":-11.52},{"pred":-9.3,"exp":-11.57},{"pred":-9.05,"exp":-11.52},{"pred":-8.8,"exp":-11.52},{"pred":-8.55,"exp":-11.57},{"pred":-8.75,"exp":-11.77},{"pred":-9.0,"exp":-11.72},{"pred":-9.25,"exp":-11.77},{"pred":-9.5,"exp":-11.72},{"pred":-9.7,"exp":-11.82},{"pred":-9.4,"exp":-11.92},{"pred":-9.15,"exp":-11.97},{"pred":-8.9,"exp":-11.92},{"pred":-9.3,"exp":-12.1},{"pred":-8.6,"exp":-12.02},{"pred":-8.5,"exp":-12.1},{"pred":-9.1,"exp":-10.07},{"pred":-8.9,"exp":-10.42},{"pred":-9.45,"exp":-10.47},{"pred":-8.3,"exp":-10.47},{"pred":-8.95,"exp":-10.67},{"pred":-8.7,"exp":-10.67},{"pred":-9.25,"exp":-10.92},{"pred":-8.55,"exp":-10.97},{"pred":-9.7,"exp":-10.72},{"pred":-10.05,"exp":-10.27},{"pred":-9.3,"exp":-11.42},{"pred":-9.0,"exp":-11.42},{"pred":-8.65,"exp":-11.42},{"pred":-9.85,"exp":-11.17},{"pred":-10.1,"exp":-11.17},{"pred":-10.5,"exp":-10.42},{"pred":-10.35,"exp":-11.32}],
 "syk_dc": [{"pred":-9.71,"exp":-7.04},{"pred":-9.71,"exp":-7.32},{"pred":-8.82,"exp":-7.32},{"pred":-10.63,"exp":-10.18},{"pred":-10.38,"exp":-10.61},{"pred":-7.53,"exp":-8.34},{"pred":-7.81,"exp":-8.41},{"pred":-8.46,"exp":-7.70},{"pred":-8.44,"exp":-7.89},{"pred":-8.15,"exp":-11.67},{"pred":-7.85,"exp":-10.33},{"pred":-7.81,"exp":-11.18},{"pred":-8.01,"exp":-10.82},{"pred":-8.22,"exp":-9.33},{"pred":-10.5,"exp":-9.9},{"pred":-10.2,"exp":-11.4},{"pred":-9.8,"exp":-7.93},{"pred":-9.3,"exp":-7.97},{"pred":-9.0,"exp":-7.92},{"pred":-8.7,"exp":-7.98},{"pred":-10.0,"exp":-8.12},{"pred":-9.6,"exp":-8.08},{"pred":-9.4,"exp":-8.13},{"pred":-8.9,"exp":-8.1},{"pred":-8.55,"exp":-8.14},{"pred":-9.9,"exp":-8.32},{"pred":-9.55,"exp":-8.27},{"pred":-9.2,"exp":-8.33},{"pred":-8.95,"exp":-8.28},{"pred":-8.6,"exp":-8.31},{"pred":-8.35,"exp":-8.35},{"pred":-10.05,"exp":-8.48},{"pred":-9.75,"exp":-8.53},{"pred":-9.45,"exp":-8.47},{"pred":-9.1,"exp":-8.52},{"pred":-8.8,"exp":-8.49},{"pred":-8.5,"exp":-8.55},{"pred":-9.85,"exp":-8.72},{"pred":-9.6,"exp":-8.68},{"pred":-9.3,"exp":-8.73},{"pred":-9.0,"exp":-8.69},{"pred":-8.7,"exp":-8.72},{"pred":-10.1,"exp":-8.9},{"pred":-9.7,"exp":-8.87},{"pred":-9.4,"exp":-8.93},{"pred":-9.15,"exp":-8.88},{"pred":-8.85,"exp":-8.92},{"pred":-8.55,"exp":-8.9},{"pred":-9.95,"exp":-9.12},{"pred":-9.6,"exp":-9.08},{"pred":-9.25,"exp":-9.13},{"pred":-8.95,"exp":-9.09},{"pred":-8.65,"exp":-9.12},{"pred":-10.0,"exp":-9.28},{"pred":-9.75,"exp":-9.33},{"pred":-9.5,"exp":-9.27},{"pred":-9.2,"exp":-9.32},{"pred":-8.9,"exp":-9.29},{"pred":-8.6,"exp":-9.31},{"pred":-9.85,"exp":-9.52},{"pred":-9.55,"exp":-9.48},{"pred":-9.3,"exp":-9.53},{"pred":-9.05,"exp":-9.49},{"pred":-8.75,"exp":-9.52},{"pred":-10.05,"exp":-9.68},{"pred":-9.7,"exp":-9.72},{"pred":-9.4,"exp":-9.68},{"pred":-9.15,"exp":-9.73},{"pred":-8.85,"exp":-9.69},{"pred":-8.5,"exp":-9.72},{"pred":-9.9,"exp":-9.92},{"pred":-9.6,"exp":-9.88},{"pred":-9.35,"exp":-9.93},{"pred":-9.1,"exp":-9.89},{"pred":-8.8,"exp":-9.92},{"pred":-10.2,"exp":-10.08},{"pred":-9.8,"exp":-10.12},{"pred":-9.5,"exp":-10.08},{"pred":-9.25,"exp":-10.13},{"pred":-8.95,"exp":-10.09},{"pred":-8.65,"exp":-10.12},{"pred":-10.0,"exp":-10.32},{"pred":-9.7,"exp":-10.28},{"pred":-9.45,"exp":-10.33},{"pred":-9.2,"exp":-10.29},{"pred":-8.9,"exp":-10.32},{"pred":-8.6,"exp":-10.28},{"pred":-10.3,"exp":-10.52},{"pred":-9.9,"exp":-10.48},{"pred":-9.6,"exp":-10.53},{"pred":-9.3,"exp":-10.49},{"pred":-9.05,"exp":-10.52},{"pred":-8.75,"exp":-10.48},{"pred":-10.1,"exp":-10.72},{"pred":-9.8,"exp":-10.68},{"pred":-9.55,"exp":-10.73},{"pred":-9.25,"exp":-10.69},{"pred":-8.95,"exp":-10.72},{"pred":-8.65,"exp":-10.68},{"pred":-8.35,"exp":-10.72},{"pred":-10.2,"exp":-10.88},{"pred":-9.95,"exp":-10.93},{"pred":-9.65,"exp":-10.88},{"pred":-9.4,"exp":-10.92},{"pred":-9.1,"exp":-10.88},{"pred":-8.8,"exp":-10.93},{"pred":-8.5,"exp":-10.89},{"pred":-10.05,"exp":-11.12},{"pred":-9.8,"exp":-11.08},{"pred":-9.5,"exp":-11.13},{"pred":-9.2,"exp":-11.09},{"pred":-8.9,"exp":-11.12},{"pred":-8.6,"exp":-11.08},{"pred":-10.15,"exp":-11.28},{"pred":-9.85,"exp":-11.32},{"pred":-9.6,"exp":-11.28},{"pred":-9.3,"exp":-11.33},{"pred":-9.0,"exp":-11.29},{"pred":-8.7,"exp":-11.32},{"pred":-8.4,"exp":-11.28},{"pred":-9.95,"exp":-11.52},{"pred":-9.7,"exp":-11.48},{"pred":-9.4,"exp":-11.53},{"pred":-9.1,"exp":-11.49},{"pred":-8.8,"exp":-11.52},{"pred":-10.0,"exp":-11.68},{"pred":-9.55,"exp":-11.72},{"pred":-9.25,"exp":-11.68},{"pred":-8.95,"exp":-11.73},{"pred":-8.6,"exp":-11.69},{"pred":-9.8,"exp":-11.88},{"pred":-9.45,"exp":-11.92},{"pred":-9.15,"exp":-11.88},{"pred":-8.85,"exp":-11.93},{"pred":-9.6,"exp":-12.05},{"pred":-9.3,"exp":-12.08},{"pred":-9.0,"exp":-12.04},{"pred":-9.45,"exp":-8.0},{"pred":-9.15,"exp":-8.2},{"pred":-8.75,"exp":-8.4},{"pred":-9.95,"exp":-8.6},{"pred":-9.45,"exp":-8.8},{"pred":-8.7,"exp":-9.0},{"pred":-9.1,"exp":-9.2},{"pred":-9.6,"exp":-9.4},{"pred":-8.9,"exp":-9.6},{"pred":-9.25,"exp":-9.8},{"pred":-9.75,"exp":-10.0},{"pred":-9.05,"exp":-10.2},{"pred":-8.75,"exp":-10.4},{"pred":-9.45,"exp":-10.6},{"pred":-10.0,"exp":-10.8},{"pred":-9.25,"exp":-11.0},{"pred":-9.65,"exp":-11.2},{"pred":-8.85,"exp":-11.4},{"pred":-9.5,"exp":-11.6},{"pred":-9.1,"exp":-11.8},{"pred":-9.85,"exp":-9.2},{"pred":-10.15,"exp":-9.5},{"pred":-8.45,"exp":-9.45},{"pred":-8.3,"exp":-10.0},{"pred":-8.4,"exp":-11.5},{"pred":-10.25,"exp":-10.3},{"pred":-9.35,"exp":-8.6},{"pred":-8.6,"exp":-8.8},{"pred":-9.8,"exp":-8.4},{"pred":-10.3,"exp":-10.9}],
 "syk_dx": [{"pred":-9.71,"exp":-7.32},{"pred":-9.57,"exp":-7.32},{"pred":-9.29,"exp":-7.04},{"pred":-10.68,"exp":-10.18},{"pred":-7.90,"exp":-8.45},{"pred":-7.56,"exp":-8.34},{"pred":-8.07,"exp":-10.21},{"pred":-8.38,"exp":-10.18},{"pred":-8.25,"exp":-9.48},{"pred":-9.57,"exp":-11.96},{"pred":-9.43,"exp":-12.0},{"pred":-10.4,"exp":-11.04},{"pred":-8.6,"exp":-7.9},{"pred":-8.45,"exp":-8.05},{"pred":-10.5,"exp":-10.5},{"pred":-8.3,"exp":-8.6},{"pred":-10.0,"exp":-7.93},{"pred":-9.5,"exp":-7.97},{"pred":-9.2,"exp":-7.92},{"pred":-8.9,"exp":-7.98},{"pred":-10.2,"exp":-8.12},{"pred":-9.8,"exp":-8.08},{"pred":-9.55,"exp":-8.13},{"pred":-9.1,"exp":-8.1},{"pred":-8.75,"exp":-8.14},{"pred":-10.1,"exp":-8.32},{"pred":-9.75,"exp":-8.27},{"pred":-9.4,"exp":-8.33},{"pred":-9.15,"exp":-8.28},{"pred":-8.8,"exp":-8.31},{"pred":-8.55,"exp":-8.35},{"pred":-10.2,"exp":-8.48},{"pred":-9.95,"exp":-8.53},{"pred":-9.65,"exp":-8.47},{"pred":-9.3,"exp":-8.52},{"pred":-9.0,"exp":-8.49},{"pred":-8.7,"exp":-8.55},{"pred":-10.05,"exp":-8.72},{"pred":-9.8,"exp":-8.68},{"pred":-9.5,"exp":-8.73},{"pred":-9.2,"exp":-8.69},{"pred":-8.9,"exp":-8.72},{"pred":-8.6,"exp":-8.7},{"pred":-10.25,"exp":-8.9},{"pred":-9.9,"exp":-8.87},{"pred":-9.6,"exp":-8.93},{"pred":-9.35,"exp":-8.88},{"pred":-9.05,"exp":-8.92},{"pred":-8.75,"exp":-8.9},{"pred":-10.15,"exp":-9.12},{"pred":-9.8,"exp":-9.08},{"pred":-9.45,"exp":-9.13},{"pred":-9.15,"exp":-9.09},{"pred":-8.85,"exp":-9.12},{"pred":-10.2,"exp":-9.28},{"pred":-9.95,"exp":-9.33},{"pred":-9.7,"exp":-9.27},{"pred":-9.4,"exp":-9.32},{"pred":-9.1,"exp":-9.29},{"pred":-8.8,"exp":-9.31},{"pred":-10.05,"exp":-9.52},{"pred":-9.75,"exp":-9.48},{"pred":-9.5,"exp":-9.53},{"pred":-9.25,"exp":-9.49},{"pred":-8.95,"exp":-9.52},{"pred":-8.65,"exp":-9.5},{"pred":-10.25,"exp":-9.68},{"pred":-9.9,"exp":-9.72},{"pred":-9.6,"exp":-9.68},{"pred":-9.35,"exp":-9.73},{"pred":-9.05,"exp":-9.69},{"pred":-8.7,"exp":-9.72},{"pred":-10.1,"exp":-9.92},{"pred":-9.8,"exp":-9.88},{"pred":-9.55,"exp":-9.93},{"pred":-9.3,"exp":-9.89},{"pred":-9.0,"exp":-9.92},{"pred":-8.65,"exp":-9.9},{"pred":-10.3,"exp":-10.08},{"pred":-10.0,"exp":-10.12},{"pred":-9.7,"exp":-10.08},{"pred":-9.45,"exp":-10.13},{"pred":-9.15,"exp":-10.09},{"pred":-8.85,"exp":-10.12},{"pred":-10.2,"exp":-10.32},{"pred":-9.9,"exp":-10.28},{"pred":-9.65,"exp":-10.33},{"pred":-9.4,"exp":-10.29},{"pred":-9.1,"exp":-10.32},{"pred":-8.8,"exp":-10.28},{"pred":-10.3,"exp":-10.52},{"pred":-10.05,"exp":-10.48},{"pred":-9.8,"exp":-10.53},{"pred":-9.5,"exp":-10.49},{"pred":-9.25,"exp":-10.52},{"pred":-8.95,"exp":-10.48},{"pred":-8.7,"exp":-10.5},{"pred":-10.25,"exp":-10.72},{"pred":-10.0,"exp":-10.68},{"pred":-9.75,"exp":-10.73},{"pred":-9.45,"exp":-10.69},{"pred":-9.15,"exp":-10.72},{"pred":-8.85,"exp":-10.68},{"pred":-10.15,"exp":-10.88},{"pred":-9.9,"exp":-10.93},{"pred":-9.6,"exp":-10.88},{"pred":-9.3,"exp":-10.92},{"pred":-9.0,"exp":-10.88},{"pred":-8.7,"exp":-10.93},{"pred":-10.2,"exp":-11.12},{"pred":-9.95,"exp":-11.08},{"pred":-9.7,"exp":-11.13},{"pred":-9.4,"exp":-11.09},{"pred":-9.1,"exp":-11.12},{"pred":-8.8,"exp":-11.08},{"pred":-10.1,"exp":-11.28},{"pred":-9.8,"exp":-11.32},{"pred":-9.5,"exp":-11.28},{"pred":-9.2,"exp":-11.33},{"pred":-8.9,"exp":-11.29},{"pred":-10.0,"exp":-11.52},{"pred":-9.75,"exp":-11.48},{"pred":-9.45,"exp":-11.53},{"pred":-9.15,"exp":-11.49},{"pred":-8.85,"exp":-11.52},{"pred":-9.9,"exp":-11.68},{"pred":-9.6,"exp":-11.72},{"pred":-9.3,"exp":-11.68},{"pred":-9.0,"exp":-11.73},{"pred":-9.7,"exp":-11.88},{"pred":-9.4,"exp":-11.85},{"pred":-9.1,"exp":-11.9},{"pred":-9.65,"exp":-8.0},{"pred":-9.35,"exp":-8.2},{"pred":-8.95,"exp":-8.4},{"pred":-10.15,"exp":-8.6},{"pred":-9.65,"exp":-8.8},{"pred":-8.9,"exp":-9.0},{"pred":-9.3,"exp":-9.2},{"pred":-9.8,"exp":-9.4},{"pred":-9.1,"exp":-9.6},{"pred":-9.45,"exp":-9.8},{"pred":-9.95,"exp":-10.0},{"pred":-9.25,"exp":-10.2},{"pred":-8.95,"exp":-10.4},{"pred":-9.65,"exp":-10.6},{"pred":-10.2,"exp":-10.8},{"pred":-9.45,"exp":-11.0},{"pred":-9.85,"exp":-11.2},{"pred":-9.05,"exp":-11.4},{"pred":-9.7,"exp":-11.6},{"pred":-9.3,"exp":-11.8},{"pred":-10.05,"exp":-9.2},{"pred":-10.35,"exp":-9.5},{"pred":-8.55,"exp":-9.6},{"pred":-8.5,"exp":-10.0},{"pred":-8.6,"exp":-11.3},{"pred":-10.4,"exp":-10.3},{"pred":-9.55,"exp":-8.6},{"pred":-8.8,"exp":-8.8},{"pred":-10.0,"exp":-8.4},{"pred":-8.55,"exp":-10.8}],
 "trmd_ac": [{"pred":-6.48,"exp":-4.75},{"pred":-6.61,"exp":-5.15},{"pred":-8.57,"exp":-5.43},{"pred":-8.41,"exp":-5.98},{"pred":-8.16,"exp":-6.37},{"pred":-7.08,"exp":-6.22},{"pred":-7.19,"exp":-6.52},{"pred":-5.83,"exp":-6.52},{"pred":-8.57,"exp":-6.95},{"pred":-8.33,"exp":-7.08},{"pred":-9.30,"exp":-7.33},{"pred":-9.30,"exp":-7.49},{"pred":-9.43,"exp":-7.73},{"pred":-9.27,"exp":-7.86},{"pred":-9.17,"exp":-8.06},{"pred":-8.55,"exp":-7.73},{"pred":-8.23,"exp":-7.73},{"pred":-8.0,"exp":-7.62},{"pred":-9.43,"exp":-8.30},{"pred":-9.65,"exp":-8.46},{"pred":-8.54,"exp":-8.30},{"pred":-8.33,"exp":-8.51},{"pred":-8.23,"exp":-8.46},{"pred":-8.39,"exp":-8.58},{"pred":-7.71,"exp":-8.30},{"pred":-8.73,"exp":-9.11},{"pred":-8.54,"exp":-9.11},{"pred":-10.40,"exp":-9.23},{"pred":-10.01,"exp":-11.31}],
 "trmd_ax": [{"pred":-6.74,"exp":-4.75},{"pred":-6.52,"exp":-5.15},{"pred":-6.37,"exp":-6.24},{"pred":-6.85,"exp":-6.52},{"pred":-8.26,"exp":-5.43},{"pred":-7.81,"exp":-5.98},{"pred":-7.81,"exp":-6.37},{"pred":-7.74,"exp":-6.95},{"pred":-8.30,"exp":-7.08},{"pred":-8.37,"exp":-7.33},{"pred":-8.20,"exp":-7.49},{"pred":-8.44,"exp":-7.73},{"pred":-7.96,"exp":-7.73},{"pred":-8.85,"exp":-7.73},{"pred":-8.89,"exp":-7.90},{"pred":-8.74,"exp":-8.06},{"pred":-8.30,"exp":-8.30},{"pred":-7.81,"exp":-8.30},{"pred":-8.07,"exp":-8.46},{"pred":-7.96,"exp":-8.38},{"pred":-8.19,"exp":-8.58},{"pred":-7.78,"exp":-8.58},{"pred":-9.22,"exp":-8.46},{"pred":-8.30,"exp":-9.11},{"pred":-7.78,"exp":-9.11},{"pred":-10.41,"exp":-9.24},{"pred":-10.0,"exp":-11.31}],
 "trmd_dc": [{"pred":-6.49,"exp":-4.75},{"pred":-6.57,"exp":-5.15},{"pred":-7.46,"exp":-5.43},{"pred":-7.04,"exp":-6.24},{"pred":-7.21,"exp":-6.52},{"pred":-8.39,"exp":-5.98},{"pred":-7.88,"exp":-6.39},{"pred":-9.04,"exp":-6.53},{"pred":-9.26,"exp":-6.95},{"pred":-8.57,"exp":-6.95},{"pred":-9.40,"exp":-7.08},{"pred":-9.71,"exp":-7.33},{"pred":-9.35,"exp":-7.44},{"pred":-9.82,"exp":-7.73},{"pred":-9.61,"exp":-7.73},{"pred":-9.22,"exp":-7.90},{"pred":-9.51,"exp":-8.03},{"pred":-8.60,"exp":-7.73},{"pred":-7.35,"exp":-7.62},{"pred":-9.35,"exp":-8.30},{"pred":-8.90,"exp":-8.30},{"pred":-9.88,"exp":-8.45},{"pred":-7.67,"exp":-8.30},{"pred":-7.88,"exp":-8.45},{"pred":-8.99,"exp":-8.58},{"pred":-8.36,"exp":-8.58},{"pred":-8.88,"exp":-9.11},{"pred":-8.29,"exp":-9.11},{"pred":-10.60,"exp":-9.26},{"pred":-11.14,"exp":-11.31},{"pred":-11.0,"exp":-11.31}],
 "trmd_dx": [{"pred":-6.76,"exp":-4.75},{"pred":-6.56,"exp":-5.15},{"pred":-7.10,"exp":-5.43},{"pred":-6.76,"exp":-6.24},{"pred":-7.40,"exp":-6.39},{"pred":-8.10,"exp":-5.98},{"pred":-7.76,"exp":-6.52},{"pred":-8.46,"exp":-6.53},{"pred":-8.79,"exp":-6.95},{"pred":-8.35,"exp":-7.08},{"pred":-8.68,"exp":-7.33},{"pred":-8.99,"exp":-7.73},{"pred":-8.53,"exp":-7.73},{"pred":-8.10,"exp":-7.73},{"pred":-8.25,"exp":-7.54},{"pred":-8.51,"exp":-7.86},{"pred":-8.79,"exp":-8.03},{"pred":-8.21,"exp":-8.03},{"pred":-7.76,"exp":-6.95},{"pred":-9.32,"exp":-8.30},{"pred":-9.18,"exp":-8.45},{"pred":-8.32,"exp":-8.30},{"pred":-7.79,"exp":-8.30},{"pred":-8.38,"exp":-8.46},{"pred":-8.49,"exp":-8.58},{"pred":-8.01,"exp":-8.58},{"pred":-8.18,"exp":-9.11},{"pred":-7.82,"exp":-9.11},{"pred":-10.65,"exp":-9.24},{"pred":-11.26,"exp":-11.31},{"pred":-11.15,"exp":-11.31}]
},
"title": {"text": "Experimental Affinity [kcal/mol]", "orient": "left", "anchor": "middle", "offset": 9, "fontSize": 31, "dx": 25},
"vconcat": [{
 "title": {"text": "Predicted Affinities [kcal/mol]", "orient": "bottom", "anchor": "middle", "offset": 8, "dx": 15},
 "columns": 4,
 "bounds": "flush",
 "spacing": {"row": 33, "column": 29},
 "concat": [
   {"width": 144, "height": 165, "layer": [
    {"data": {"name": "fxa1_ac"}, "mark": "circle", "encoding": {"x": {"field": "pred", "type": "quantitative", "scale": {"domain": [-11, -4], "nice": false, "zero": false}, "axis": {"labels": false, "title": null}}, "y": {"field": "exp", "type": "quantitative", "scale": {"domain": [-12, -8], "nice": false, "zero": false}, "axis": {"values": [-12, -10, -8], "title": "FXA set1"}}}},
    {"data": {"values": [{"pred": -11, "exp": -9.64}, {"pred": -4, "exp": -10.67}]}, "mark": {"type": "line", "clip": true}, "encoding": {"x": {"field": "pred", "type": "quantitative"}, "y": {"field": "exp", "type": "quantitative"}}},
    {"data": {"values": [{"label": "R² = 0.01"}]}, "mark": {"type": "text", "dy": -2}, "encoding": {"x": {"datum": -7.451, "type": "quantitative"}, "y": {"datum": -12, "type": "quantitative"}, "text": {"field": "label"}}}
   ]},
   {"width": 144, "height": 165, "layer": [
    {"data": {"name": "fxa1_ax"}, "mark": "circle", "encoding": {"x": {"field": "pred", "type": "quantitative", "scale": {"domain": [-11, -3], "nice": false, "zero": false}, "axis": {"labels": false, "title": null}}, "y": {"field": "exp", "type": "quantitative", "scale": {"domain": [-12, -8], "nice": false, "zero": false}, "axis": {"labels": false, "title": null}}}},
    {"data": {"values": [{"pred": -11, "exp": -9.86}, {"pred": -3, "exp": -10.30}]}, "mark": {"type": "line", "clip": true}, "encoding": {"x": {"field": "pred", "type": "quantitative"}, "y": {"field": "exp", "type": "quantitative"}}},
    {"data": {"values": [{"label": "R² = 0.00"}]}, "mark": {"type": "text", "dy": -2}, "encoding": {"x": {"datum": -6.944, "type": "quantitative"}, "y": {"datum": -12, "type": "quantitative"}, "text": {"field": "label"}}}
   ]},
   {"width": 144, "height": 165, "layer": [
    {"data": {"name": "fxa1_dc"}, "mark": "circle", "encoding": {"x": {"field": "pred", "type": "quantitative", "scale": {"domain": [-12, -6], "nice": false, "zero": false}, "axis": {"labels": false, "title": null}}, "y": {"field": "exp", "type": "quantitative", "scale": {"domain": [-12, -8], "nice": false, "zero": false}, "axis": {"labels": false, "title": null}}}},
    {"data": {"values": [{"pred": -12, "exp": -10.11}, {"pred": -6, "exp": -9.86}]}, "mark": {"type": "line", "clip": true}, "encoding": {"x": {"field": "pred", "type": "quantitative"}, "y": {"field": "exp", "type": "quantitative"}}},
    {"data": {"values": [{"label": "R² = 0.00"}]}, "mark": {"type": "text", "dy": -2}, "encoding": {"x": {"datum": -8.958, "type": "quantitative"}, "y": {"datum": -12, "type": "quantitative"}, "text": {"field": "label"}}}
   ]},
   {"width": 144, "height": 165, "layer": [
    {"data": {"name": "fxa1_dx"}, "mark": "circle", "encoding": {"x": {"field": "pred", "type": "quantitative", "scale": {"domain": [-12, -6], "nice": false, "zero": false}, "axis": {"labels": false, "title": null}}, "y": {"field": "exp", "type": "quantitative", "scale": {"domain": [-12, -8], "nice": false, "zero": false}, "axis": {"labels": false, "title": null}}}},
    {"data": {"values": [{"pred": -12, "exp": -9.86}, {"pred": -6, "exp": -10.17}]}, "mark": {"type": "line", "clip": true}, "encoding": {"x": {"field": "pred", "type": "quantitative"}, "y": {"field": "exp", "type": "quantitative"}}},
    {"data": {"values": [{"label": "R² = 0.00"}]}, "mark": {"type": "text", "dy": -2}, "encoding": {"x": {"datum": -8.958, "type": "quantitative"}, "y": {"datum": -12, "type": "quantitative"}, "text": {"field": "label"}}}
   ]},
   {"width": 144, "height": 165, "layer": [
    {"data": {"name": "fxa2_ac"}, "mark": "circle", "encoding": {"x": {"field": "pred", "type": "quantitative", "scale": {"domain": [-11, -4], "nice": false, "zero": false}, "axis": {"labels": false, "title": null}}, "y": {"field": "exp", "type": "quantitative", "scale": {"domain": [-13, -6], "nice": false, "zero": false}, "axis": {"values": [-12, -10, -8, -6], "title": "FXA set2"}}}},
    {"data": {"values": [{"pred": -11, "exp": -12.0}, {"pred": -4, "exp": -7.14}]}, "mark": {"type": "line", "clip": true}, "encoding": {"x": {"field": "pred", "type": "quantitative"}, "y": {"field": "exp", "type": "quantitative"}}},
    {"data": {"values": [{"label": "(R² = 0.12)"}]}, "mark": {"type": "text", "dy": -2}, "encoding": {"x": {"datum": -7.451, "type": "quantitative"}, "y": {"datum": -13, "type": "quantitative"}, "text": {"field": "label"}}}
   ]},
   {"width": 144, "height": 165, "layer": [
    {"data": {"name": "fxa2_ax"}, "mark": "circle", "encoding": {"x": {"field": "pred", "type": "quantitative", "scale": {"domain": [-11, -3], "nice": false, "zero": false}, "axis": {"labels": false, "title": null}}, "y": {"field": "exp", "type": "quantitative", "scale": {"domain": [-13, -6], "nice": false, "zero": false}, "axis": {"labels": false, "title": null}}}},
    {"data": {"values": [{"pred": -11, "exp": -11.94}, {"pred": -3, "exp": -7.07}]}, "mark": {"type": "line", "clip": true}, "encoding": {"x": {"field": "pred", "type": "quantitative"}, "y": {"field": "exp", "type": "quantitative"}}},
    {"data": {"values": [{"label": "(R² = 0.09)"}]}, "mark": {"type": "text", "dy": -2}, "encoding": {"x": {"datum": -6.944, "type": "quantitative"}, "y": {"datum": -13, "type": "quantitative"}, "text": {"field": "label"}}}
   ]},
   {"width": 144, "height": 165, "layer": [
    {"data": {"name": "fxa2_dc"}, "mark": "circle", "encoding": {"x": {"field": "pred", "type": "quantitative", "scale": {"domain": [-12, -6], "nice": false, "zero": false}, "axis": {"labels": false, "title": null}}, "y": {"field": "exp", "type": "quantitative", "scale": {"domain": [-13, -6], "nice": false, "zero": false}, "axis": {"labels": false, "title": null}}}},
    {"data": {"values": [{"pred": -12, "exp": -12.21}, {"pred": -6, "exp": -6.92}]}, "mark": {"type": "line", "clip": true}, "encoding": {"x": {"field": "pred", "type": "quantitative"}, "y": {"field": "exp", "type": "quantitative"}}},
    {"data": {"values": [{"label": "R² = 0.19"}]}, "mark": {"type": "text", "dy": -2}, "encoding": {"x": {"datum": -8.958, "type": "quantitative"}, "y": {"datum": -13, "type": "quantitative"}, "text": {"field": "label"}}}
   ]},
   {"width": 144, "height": 165, "layer": [
    {"data": {"name": "fxa2_dx"}, "mark": "circle", "encoding": {"x": {"field": "pred", "type": "quantitative", "scale": {"domain": [-12, -6], "nice": false, "zero": false}, "axis": {"labels": false, "title": null}}, "y": {"field": "exp", "type": "quantitative", "scale": {"domain": [-13, -6], "nice": false, "zero": false}, "axis": {"labels": false, "title": null}}}},
    {"data": {"values": [{"pred": -12, "exp": -12.82}, {"pred": -6, "exp": -7.35}]}, "mark": {"type": "line", "clip": true}, "encoding": {"x": {"field": "pred", "type": "quantitative"}, "y": {"field": "exp", "type": "quantitative"}}},
    {"data": {"values": [{"label": "R² = 0.13"}]}, "mark": {"type": "text", "dy": -2}, "encoding": {"x": {"datum": -8.958, "type": "quantitative"}, "y": {"datum": -13, "type": "quantitative"}, "text": {"field": "label"}}}
   ]},
   {"width": 144, "height": 165, "layer": [
    {"data": {"name": "fxa3_ac"}, "mark": "circle", "encoding": {"x": {"field": "pred", "type": "quantitative", "scale": {"domain": [-11, -4], "nice": false, "zero": false}, "axis": {"labels": false, "title": null}}, "y": {"field": "exp", "type": "quantitative", "scale": {"domain": [-13, -7], "nice": false, "zero": false}, "axis": {"values": [-12, -10, -8], "title": "FXA set3"}}}},
    {"data": {"values": [{"pred": -11, "exp": -11.70}, {"pred": -4, "exp": -7.43}]}, "mark": {"type": "line", "clip": true}, "encoding": {"x": {"field": "pred", "type": "quantitative"}, "y": {"field": "exp", "type": "quantitative"}}},
    {"data": {"values": [{"label": "(R² = 0.11)"}]}, "mark": {"type": "text", "dy": -2}, "encoding": {"x": {"datum": -7.451, "type": "quantitative"}, "y": {"datum": -13, "type": "quantitative"}, "text": {"field": "label"}}}
   ]},
   {"width": 144, "height": 165, "layer": [
    {"data": {"name": "fxa3_ax"}, "mark": "circle", "encoding": {"x": {"field": "pred", "type": "quantitative", "scale": {"domain": [-11, -3], "nice": false, "zero": false}, "axis": {"labels": false, "title": null}}, "y": {"field": "exp", "type": "quantitative", "scale": {"domain": [-13, -7], "nice": false, "zero": false}, "axis": {"labels": false, "title": null}}}},
    {"data": {"values": [{"pred": -11, "exp": -11.51}, {"pred": -3, "exp": -7.71}]}, "mark": {"type": "line", "clip": true}, "encoding": {"x": {"field": "pred", "type": "quantitative"}, "y": {"field": "exp", "type": "quantitative"}}},
    {"data": {"values": [{"label": "(R² = 0.08)"}]}, "mark": {"type": "text", "dy": -2}, "encoding": {"x": {"datum": -6.944, "type": "quantitative"}, "y": {"datum": -13, "type": "quantitative"}, "text": {"field": "label"}}}
   ]},
   {"width": 144, "height": 165, "layer": [
    {"data": {"name": "fxa3_dc"}, "mark": "circle", "encoding": {"x": {"field": "pred", "type": "quantitative", "scale": {"domain": [-12, -6], "nice": false, "zero": false}, "axis": {"labels": false, "title": null}}, "y": {"field": "exp", "type": "quantitative", "scale": {"domain": [-13, -7], "nice": false, "zero": false}, "axis": {"labels": false, "title": null}}}},
    {"data": {"values": [{"pred": -12, "exp": -12.34}, {"pred": -6, "exp": -6.34}]}, "mark": {"type": "line", "clip": true}, "encoding": {"x": {"field": "pred", "type": "quantitative"}, "y": {"field": "exp", "type": "quantitative"}}},
    {"data": {"values": [{"label": "R² = 0.23"}]}, "mark": {"type": "text", "dy": -2}, "encoding": {"x": {"datum": -8.958, "type": "quantitative"}, "y": {"datum": -13, "type": "quantitative"}, "text": {"field": "label"}}}
   ]},
   {"width": 144, "height": 165, "layer": [
    {"data": {"name": "fxa3_dx"}, "mark": "circle", "encoding": {"x": {"field": "pred", "type": "quantitative", "scale": {"domain": [-12, -6], "nice": false, "zero": false}, "axis": {"labels": false, "title": null}}, "y": {"field": "exp", "type": "quantitative", "scale": {"domain": [-13, -7], "nice": false, "zero": false}, "axis": {"labels": false, "title": null}}}},
    {"data": {"values": [{"pred": -12, "exp": -13.54}, {"pred": -6, "exp": -6.53}]}, "mark": {"type": "line", "clip": true}, "encoding": {"x": {"field": "pred", "type": "quantitative"}, "y": {"field": "exp", "type": "quantitative"}}},
    {"data": {"values": [{"label": "R² = 0.16"}]}, "mark": {"type": "text", "dy": -2}, "encoding": {"x": {"datum": -8.958, "type": "quantitative"}, "y": {"datum": -13, "type": "quantitative"}, "text": {"field": "label"}}}
   ]},
   {"width": 144, "height": 165, "layer": [
    {"data": {"name": "syk_ac"}, "mark": "circle", "encoding": {"x": {"field": "pred", "type": "quantitative", "scale": {"domain": [-11, -4], "nice": false, "zero": false}, "axis": {"labels": false, "title": null}}, "y": {"field": "exp", "type": "quantitative", "scale": {"domain": [-13, -6], "nice": false, "zero": false}, "axis": {"values": [-12, -10, -8, -6], "title": "SYK"}}}},
    {"data": {"values": [{"pred": -11, "exp": -12.03}, {"pred": -4, "exp": -6.35}]}, "mark": {"type": "line", "clip": true}, "encoding": {"x": {"field": "pred", "type": "quantitative"}, "y": {"field": "exp", "type": "quantitative"}}},
    {"data": {"values": [{"label": "(R² = 0.39)"}]}, "mark": {"type": "text", "dy": -2}, "encoding": {"x": {"datum": -7.451, "type": "quantitative"}, "y": {"datum": -13, "type": "quantitative"}, "text": {"field": "label"}}}
   ]},
   {"width": 144, "height": 165, "layer": [
    {"data": {"name": "syk_ax"}, "mark": "circle", "encoding": {"x": {"field": "pred", "type": "quantitative", "scale": {"domain": [-11, -3], "nice": false, "zero": false}, "axis": {"labels": false, "title": null}}, "y": {"field": "exp", "type": "quantitative", "scale": {"domain": [-13, -6], "nice": false, "zero": false}, "axis": {"labels": false, "title": null}}}},
    {"data": {"values": [{"pred": -11, "exp": -11.67}, {"pred": -3, "exp": -6.0}]}, "mark": {"type": "line", "clip": true}, "encoding": {"x": {"field": "pred", "type": "quantitative"}, "y": {"field": "exp", "type": "quantitative"}}},
    {"data": {"values": [{"label": "(R² = 0.39)"}]}, "mark": {"type": "text", "dy": -2}, "encoding": {"x": {"datum": -6.944, "type": "quantitative"}, "y": {"datum": -13, "type": "quantitative"}, "text": {"field": "label"}}}
   ]},
   {"width": 144, "height": 165, "layer": [
    {"data": {"name": "syk_dc"}, "mark": "circle", "encoding": {"x": {"field": "pred", "type": "quantitative", "scale": {"domain": [-12, -6], "nice": false, "zero": false}, "axis": {"labels": false, "title": null}}, "y": {"field": "exp", "type": "quantitative", "scale": {"domain": [-13, -6], "nice": false, "zero": false}, "axis": {"labels": false, "title": null}}}},
    {"data": {"values": [{"pred": -12, "exp": -10.54}, {"pred": -6, "exp": -9.48}]}, "mark": {"type": "line", "clip": true}, "encoding": {"x": {"field": "pred", "type": "quantitative"}, "y": {"field": "exp", "type": "quantitative"}}},
    {"data": {"values": [{"label": "R² = 0.01"}]}, "mark": {"type": "text", "dy": -2}, "encoding": {"x": {"datum": -8.958, "type": "quantitative"}, "y": {"datum": -13, "type": "quantitative"}, "text": {"field": "label"}}}
   ]},
   {"width": 144, "height": 165, "layer": [
    {"data": {"name": "syk_dx"}, "mark": "circle", "encoding": {"x": {"field": "pred", "type": "quantitative", "scale": {"domain": [-12, -6], "nice": false, "zero": false}, "axis": {"labels": false, "title": null}}, "y": {"field": "exp", "type": "quantitative", "scale": {"domain": [-13, -6], "nice": false, "zero": false}, "axis": {"labels": false, "title": null}}}},
    {"data": {"values": [{"pred": -12, "exp": -11.53}, {"pred": -6, "exp": -8.06}]}, "mark": {"type": "line", "clip": true}, "encoding": {"x": {"field": "pred", "type": "quantitative"}, "y": {"field": "exp", "type": "quantitative"}}},
    {"data": {"values": [{"label": "R² = 0.06"}]}, "mark": {"type": "text", "dy": -2}, "encoding": {"x": {"datum": -8.958, "type": "quantitative"}, "y": {"datum": -13, "type": "quantitative"}, "text": {"field": "label"}}}
   ]},
   {"width": 144, "height": 165, "layer": [
    {"data": {"name": "trmd_ac"}, "mark": "circle", "encoding": {"x": {"field": "pred", "type": "quantitative", "scale": {"domain": [-11, -4], "nice": false, "zero": false}, "axis": {"values": [-10, -8, -6, -4], "title": "Align-Close"}}, "y": {"field": "exp", "type": "quantitative", "scale": {"domain": [-12, -4], "nice": false, "zero": false}, "axis": {"values": [-12, -10, -8, -6, -4], "title": "TRMD"}}}},
    {"data": {"values": [{"pred": -11, "exp": -10.12}, {"pred": -4, "exp": -3.36}]}, "mark": {"type": "line", "clip": true}, "encoding": {"x": {"field": "pred", "type": "quantitative"}, "y": {"field": "exp", "type": "quantitative"}}},
    {"data": {"values": [{"label": "(R² = 0.47)"}]}, "mark": {"type": "text", "dy": -2}, "encoding": {"x": {"datum": -7.451, "type": "quantitative"}, "y": {"datum": -12, "type": "quantitative"}, "text": {"field": "label"}}}
   ]},
   {"width": 144, "height": 165, "layer": [
    {"data": {"name": "trmd_ax"}, "mark": "circle", "encoding": {"x": {"field": "pred", "type": "quantitative", "scale": {"domain": [-11, -3], "nice": false, "zero": false}, "axis": {"values": [-10, -8, -6, -4], "title": "Align-Cross"}}, "y": {"field": "exp", "type": "quantitative", "scale": {"domain": [-12, -4], "nice": false, "zero": false}, "axis": {"labels": false, "title": null}}}},
    {"data": {"values": [{"pred": -11, "exp": -11.14}, {"pred": -3, "exp": -1.38}]}, "mark": {"type": "line", "clip": true}, "encoding": {"x": {"field": "pred", "type": "quantitative"}, "y": {"field": "exp", "type": "quantitative"}}},
    {"data": {"values": [{"label": "(R² = 0.56)"}]}, "mark": {"type": "text", "dy": -2}, "encoding": {"x": {"datum": -6.944, "type": "quantitative"}, "y": {"datum": -12, "type": "quantitative"}, "text": {"field": "label"}}}
   ]},
   {"width": 144, "height": 165, "layer": [
    {"data": {"name": "trmd_dc"}, "mark": "circle", "encoding": {"x": {"field": "pred", "type": "quantitative", "scale": {"domain": [-12, -6], "nice": false, "zero": false}, "axis": {"values": [-12, -10, -8, -6], "title": "Dock-Close"}}, "y": {"field": "exp", "type": "quantitative", "scale": {"domain": [-12, -4], "nice": false, "zero": false}, "axis": {"labels": false, "title": null}}}},
    {"data": {"values": [{"pred": -12, "exp": -10.66}, {"pred": -6, "exp": -5.14}]}, "mark": {"type": "line", "clip": true}, "encoding": {"x": {"field": "pred", "type": "quantitative"}, "y": {"field": "exp", "type": "quantitative"}}},
    {"data": {"values": [{"label": "R² = 0.53"}]}, "mark": {"type": "text", "dy": -2}, "encoding": {"x": {"datum": -8.958, "type": "quantitative"}, "y": {"datum": -12, "type": "quantitative"}, "text": {"field": "label"}}}
   ]},
   {"width": 144, "height": 165, "layer": [
    {"data": {"name": "trmd_dx"}, "mark": "circle", "encoding": {"x": {"field": "pred", "type": "quantitative", "scale": {"domain": [-12, -6], "nice": false, "zero": false}, "axis": {"values": [-12, -10, -8, -6], "title": "Dock-Cross"}}, "y": {"field": "exp", "type": "quantitative", "scale": {"domain": [-12, -4], "nice": false, "zero": false}, "axis": {"labels": false, "title": null}}}},
    {"data": {"values": [{"pred": -12, "exp": -11.71}, {"pred": -6, "exp": -5.02}]}, "mark": {"type": "line", "clip": true}, "encoding": {"x": {"field": "pred", "type": "quantitative"}, "y": {"field": "exp", "type": "quantitative"}}},
    {"data": {"values": [{"label": "R² = 0.67"}]}, "mark": {"type": "text", "dy": -2}, "encoding": {"x": {"datum": -8.958, "type": "quantitative"}, "y": {"datum": -12, "type": "quantitative"}, "text": {"field": "label"}}}
   ]}
 ]
}]
}
